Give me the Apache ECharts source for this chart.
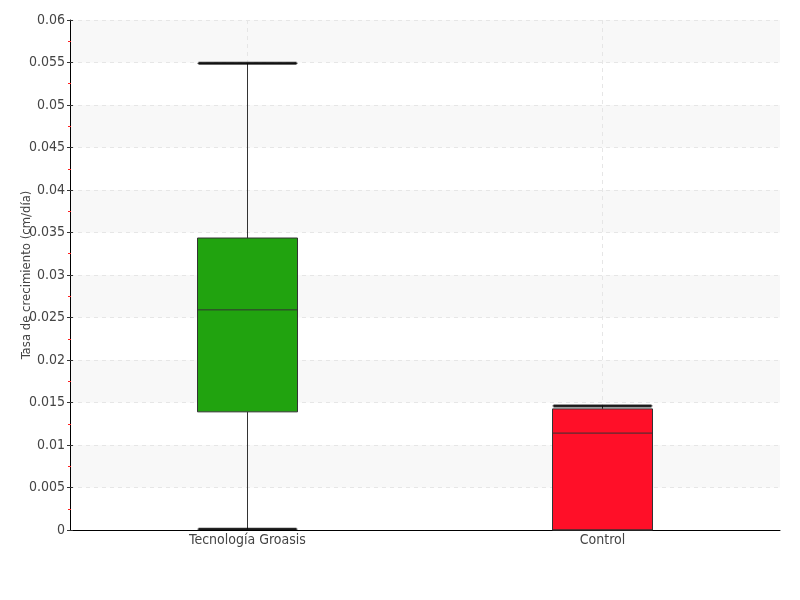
<!DOCTYPE html>
<html><head><meta charset="utf-8">
<script src="https://cdn.jsdelivr.net/npm/echarts@6/dist/echarts.min.js"></script>
<style>html,body{margin:0;padding:0;background:#fff}#c{width:800px;height:600px}</style>
</head><body><div id="c"></div>
<script>
const categories = ['Tecnología Groasis', 'Control'];
// [min, Q1, median, Q3, max]
const boxValues = [
  [0.0001, 0.0139, 0.0259, 0.03435, 0.0549],
  [0.0, 0.0, 0.0114, 0.01425, 0.0146]
];
const boxColors = ['#21a30f', '#ff0f28'];
const yTicks = { min: 0, max: 0.06, interval: 0.005 };
const yName = 'Tasa de crecimiento (cm/día)';

const FONT = '"DejaVu Sans", sans-serif';
const FW = 'condensed';
const chart = echarts.init(document.getElementById('c'), null, { renderer: 'canvas' });

const capData = [];
boxValues.forEach((v, i) => {
  capData.push([i, v[4]]);
  if (v[0] < v[1]) capData.push([i, v[0]]);
});

chart.setOption({
  animation: false,
  backgroundColor: '#fff',
  grid: { left: 70, right: 20, top: 20, bottom: 70, containLabel: false, outerBoundsMode: 'none' },
  xAxis: {
    type: 'category',
    data: categories,
    axisLine: { lineStyle: { color: '#000', width: 1 } },
    axisTick: { show: false },
    axisLabel: { color: '#444', fontFamily: FONT, fontWeight: FW, fontSize: 14, margin: 3 },
    splitLine: { show: true, alignWithLabel: true, lineStyle: { color: '#e6e6e6', type: [4, 4] } }
  },
  yAxis: [{
    type: 'value',
    min: yTicks.min, max: yTicks.max, interval: yTicks.interval,
    name: yName,
    nameLocation: 'middle',
    nameGap: 37,
    nameMoveOverlap: false,
    nameTextStyle: { color: '#444', fontFamily: FONT, fontWeight: FW, fontSize: 13 },
    axisLine: { show: true, lineStyle: { color: '#000', width: 1 } },
    axisTick: { show: true, length: 3, lineStyle: { color: '#333' } },
    minorTick: { show: true, splitNumber: 2, length: 2, lineStyle: { color: '#ff2020', width: 1 } },
    axisLabel: { color: '#444', fontFamily: FONT, fontWeight: FW, fontSize: 14, margin: 5,
      formatter: v => String(parseFloat(v.toFixed(4))) },
    splitLine: { show: true, lineStyle: { color: '#e6e6e6', type: [4, 4] } },
    splitArea: { show: true, areaStyle: { color: ['rgba(255,255,255,0)', '#f8f8f8'] } }
  }, {
    type: 'value',
    position: 'left',
    offset: 0,
    min: yTicks.min, max: yTicks.max, interval: yTicks.interval,
    axisLine: { show: false },
    axisTick: { show: true, inside: true, length: 3, lineStyle: { color: '#333' } },
    minorTick: { show: true, splitNumber: 2, length: 1, lineStyle: { color: '#ff2020' } },
    axisLabel: { show: false },
    splitLine: { show: false },
    splitArea: { show: false }
  }],
  series: [
    {
      type: 'boxplot',
      boxWidth: [100, 100],
      data: boxValues.map((v, i) => ({
        value: v,
        itemStyle: { color: boxColors[i], borderColor: '#333', borderWidth: 1 }
      })),
      emphasis: { disabled: true },
      z: 2
    },
    {
      type: 'scatter',
      symbol: 'rect',
      symbolSize: [98, 3],
      itemStyle: { color: '#000' },
      data: capData,
      emphasis: { disabled: true },
      z: 3
    }
  ]
});
</script></body></html>
